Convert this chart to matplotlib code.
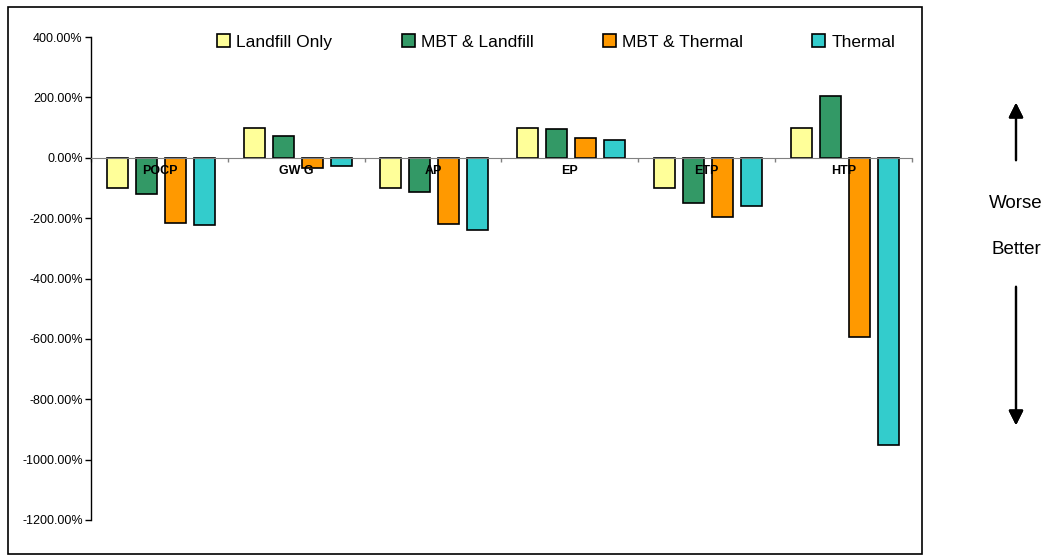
import numpy as np
import matplotlib.pyplot as plt
from matplotlib.patches import Rectangle

plt.rcParams['font.family'] = ['Liberation Sans', 'DejaVu Sans']

categories = ['POCP', 'GW G', 'AP', 'EP', 'ETP', 'HTP']
series = ['Landfill Only', 'MBT & Landfill', 'MBT & Thermal', 'Thermal']
landfill_only = [-100, 100, -100, 100, -100, 100]
mbt_landfill = [-120, 72, -115, 94, -150, 205]
mbt_thermal = [-215, -35, -220, 66, -195, -595]
thermal = [-222, -28, -240, 60, -160, -952]
colors = ['#FFFF99', '#339966', '#FF9900', '#33CCCC']

fig = plt.figure(figsize=(10.48, 5.57), dpi=100)
ax = fig.add_axes([91/1048, 1-520/557, 821/1048, 483/557])

x = np.arange(len(categories)) + 0.5
step = 0.212
width = 0.153
for i, (vals, c, name) in enumerate(zip([landfill_only, mbt_landfill, mbt_thermal, thermal], colors, series)):
    ax.bar(x + (i - 1.5) * step + 0.01, vals, width, color=c, edgecolor='black', linewidth=1.2, label=name, zorder=3)

ax.set_xlim(0, len(categories))
ax.set_ylim(-1200, 400)
ax.set_yticks(np.arange(-1200, 401, 200))
ax.set_yticklabels(['%.2f%%' % v for v in np.arange(-1200, 401, 200)], fontsize=9)
ax.set_xticks(np.arange(len(categories) + 1))
ax.set_xticklabels([])
ax.tick_params(axis='y', direction='out', length=4, width=1, pad=2)
ax.tick_params(axis='x', direction='out', length=3, width=1, colors='#808080')

for s in ['top', 'right']:
    ax.spines[s].set_visible(False)
ax.spines['bottom'].set_position(('data', 0))
ax.spines['bottom'].set_color('#808080')
ax.spines['bottom'].set_zorder(4)
ax.spines['left'].set_linewidth(1)

for xi, name in zip(x, categories):
    ax.text(xi, -25, name, ha='center', va='top', fontsize=9, fontweight='bold', zorder=5)

leg = ax.legend(loc='center left', bbox_to_anchor=(217/1048, 1-42/557), bbox_transform=fig.transFigure,
                ncol=4, frameon=False, fontsize=12.5, handlelength=0.75, handleheight=0.75,
                handletextpad=0.35, columnspacing=4.0, borderpad=0, borderaxespad=0)

# outer border
fig.patches.append(Rectangle((8/1048, 1-554/557), 914/1048, 547/557, transform=fig.transFigure,
                             fill=False, edgecolor='black', linewidth=1.2))

# Worse / Better indicator
fig.text(1016/1048, 1-203/557, 'Worse', ha='center', va='center', fontsize=13.5)
fig.text(1016/1048, 1-249/557, 'Better', ha='center', va='center', fontsize=13.5)
fig.add_artist(plt.annotate('', xy=(1016/1048, 1-100/557), xytext=(1016/1048, 1-163/557),
                            xycoords='figure fraction', textcoords='figure fraction',
                            arrowprops=dict(arrowstyle='-|>', color='black', lw=1.6, mutation_scale=22)))
fig.add_artist(plt.annotate('', xy=(1016/1048, 1-428/557), xytext=(1016/1048, 1-284/557),
                            xycoords='figure fraction', textcoords='figure fraction',
                            arrowprops=dict(arrowstyle='-|>', color='black', lw=1.6, mutation_scale=22)))

fig.savefig('out.png', dpi=100)
